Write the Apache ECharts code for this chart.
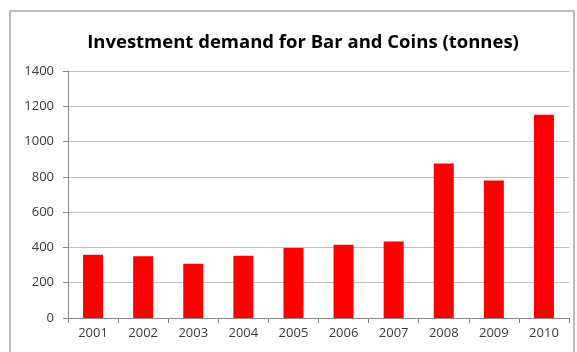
<!DOCTYPE html>
<html>
<head>
<meta charset="utf-8">
<script src="https://cdn.jsdelivr.net/npm/echarts@6/dist/echarts.min.js"></script>
<style>
  html, body { margin: 0; padding: 0; background: #fff; }
  #chart { width: 577px; height: 352px; }
</style>
</head>
<body>
<div id="chart"></div>
<script>
// Gold investment demand, bar and coins, in tonnes
const years = ['2001', '2002', '2003', '2004', '2005', '2006', '2007', '2008', '2009', '2010'];
const demand = [358, 350, 308, 353, 397, 415, 433, 876, 780, 1152];
const yTicks = [0, 200, 400, 600, 800, 1000, 1200, 1400];

const chart = echarts.init(document.getElementById('chart'));
const labelFont = { color: '#3a3a3a', fontSize: 13, fontFamily: 'Open Sans, Liberation Sans, sans-serif' };

chart.setOption({
  animation: false,
  backgroundColor: '#fff',
  title: {
    text: 'Investment demand for Bar and Coins (tonnes)',
    left: 298,
    textAlign: 'center',
    top: 28,
    textStyle: { fontSize: 18.5, fontWeight: 'bold', color: '#000', fontFamily: 'Open Sans, Liberation Sans, sans-serif' }
  },
  graphic: [{
    type: 'rect',
    shape: { x: 10, y: 11, width: 564, height: 360 },
    style: { fill: 'none', stroke: '#a6a6a6', lineWidth: 1.5 },
    silent: true
  }],
  grid: { left: 68, right: 8, top: 71, bottom: 34 },
  xAxis: {
    type: 'category',
    data: years,
    axisLine: { lineStyle: { color: '#888' } },
    axisTick: { show: true, alignWithLabel: false, length: 5, lineStyle: { color: '#888' } },
    axisLabel: Object.assign({ margin: 9 }, labelFont)
  },
  yAxis: {
    type: 'value',
    min: yTicks[0],
    max: yTicks[yTicks.length - 1],
    interval: yTicks[1] - yTicks[0],
    axisLine: { show: true, lineStyle: { color: '#888' } },
    axisTick: { show: true, length: 5, lineStyle: { color: '#888' } },
    axisLabel: Object.assign({ margin: 14, formatter: v => String(v) }, labelFont),
    splitLine: { lineStyle: { color: '#bfbfbf' } }
  },
  series: [{
    type: 'bar',
    data: demand,
    barWidth: 20,
    itemStyle: { color: '#ff0000' }
  }]
});
</script>
</body>
</html>
